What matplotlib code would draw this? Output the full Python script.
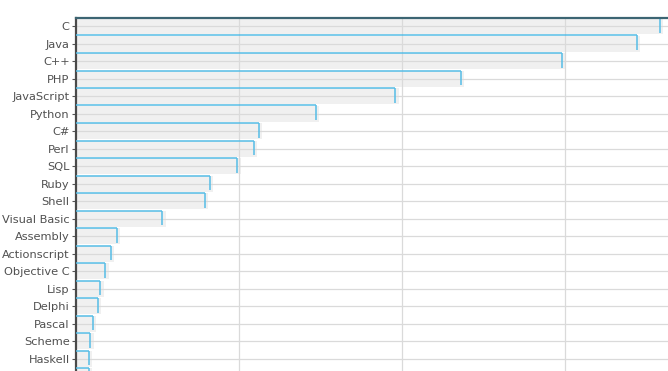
import numpy as np
import matplotlib
matplotlib.use("Agg")
import matplotlib.pyplot as plt

languages = ["C", "Java", "C++", "PHP", "JavaScript", "Python", "C#", "Perl",
             "SQL", "Ruby", "Shell", "Visual Basic", "Assembly", "Actionscript",
             "Objective C", "Lisp", "Delphi", "Pascal", "Scheme", "Haskell", "Lua"]
scores = [3.58, 3.44, 2.98, 2.36, 1.96, 1.47, 1.12, 1.09,
          0.99, 0.82, 0.79, 0.53, 0.25, 0.215, 0.18, 0.15,
          0.135, 0.105, 0.088, 0.08, 0.08]

blue = "#56bde6"
shade = "#f0f0f0"
grid = "#dadada"

fig = plt.figure(figsize=(6.68, 3.71), dpi=100)
ax = fig.add_axes([76 / 668, 0, 1 - 76 / 668, 1 - 18 / 371])

y = np.arange(len(languages))
vals = np.asarray(scores)
bar_h = 0.93
pad = 0.02  # shadow sticks out a little past the marker

ax.barh(y, vals + pad, height=bar_h, color=shade, zorder=1)

top = y - bar_h / 2
ax.hlines(top, 0, vals, color=blue, lw=1.1, zorder=3)
ax.vlines(vals, top, top + 0.85, color=blue, lw=1.1, zorder=3)

for gx in [1, 2, 3]:
    ax.axvline(gx, color=grid, lw=0.9, zorder=1.5)
for gy in y:
    ax.axhline(gy, color=grid, lw=0.9, zorder=1.5)

ax.set_yticks(y)
ax.set_yticklabels(languages, fontsize=8.2, color="#505050")
ax.tick_params(axis="y", length=3, width=0.8, color="#555555", pad=1.5)
ax.set_xticks([])

# limits last, so the tick call does not stretch them
ax.set_xlim(0, 592 / 163)
ax.set_ylim(top[0] + 353 / 17.5, top[0])

for s in ["right", "bottom"]:
    ax.spines[s].set_visible(False)
ax.spines["left"].set_color("#4a4a4a")
ax.spines["left"].set_linewidth(1.6)
ax.spines["top"].set_color("#3c6573")
ax.spines["top"].set_linewidth(1.6)
ax.spines["top"].set_zorder(4)

fig.savefig("out.png", dpi=100)
